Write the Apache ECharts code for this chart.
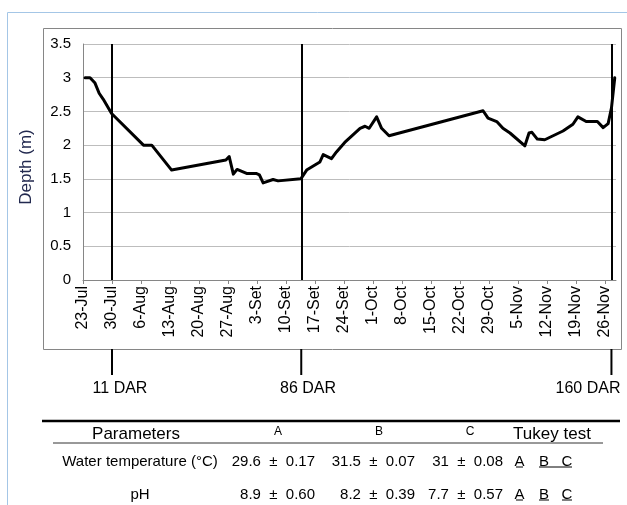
<!DOCTYPE html>
<html>
<head>
<meta charset="utf-8">
<script src="https://cdn.jsdelivr.net/npm/echarts@6/dist/echarts.min.js"></script>
<style>
  html, body { margin: 0; padding: 0; background: #fff; }
  #main { width: 627px; height: 505px; }
</style>
</head>
<body>
<div id="main"></div>
<script>
// ---------- data ----------
// x = days after 23-Jul, y = depth (m)
var days  = [0.5, 1.7, 2.9, 3.9, 4.9, 6.9, 14.6, 16.6, 21.4, 34.5, 35.3, 36.3, 37.2, 39.5, 41.8, 42.6, 43.5, 45.9, 47.1, 52.6,
             54, 57.2, 58, 60, 61.2, 63.2, 66.9, 68.1, 69.1, 70.9, 72.1, 73.9, 96.6, 97.8, 99.9, 101.4, 103.1,
             106.7, 107.7, 108.4, 109.7, 111.5, 115.9, 118.3, 119.5, 121.5, 124.2, 125.6, 126.8, 127.6, 128.4];
var depth = [3.0, 3.0, 2.92, 2.77, 2.68, 2.47, 2.0, 2.0, 1.63, 1.78, 1.83, 1.57, 1.64, 1.58, 1.58, 1.56, 1.44, 1.49, 1.47, 1.50,
             1.63, 1.75, 1.86, 1.80, 1.90, 2.04, 2.25, 2.28, 2.25, 2.42, 2.25, 2.14, 2.51, 2.40, 2.35, 2.25, 2.18,
             1.99, 2.18, 2.19, 2.09, 2.08, 2.21, 2.31, 2.42, 2.35, 2.35, 2.26, 2.32, 2.55, 3.0];

var weekLabels = ['23-Jul','30-Jul','6-Aug','13-Aug','20-Aug','27-Aug','3-Set','10-Set','17-Set','24-Set',
                  '1-Oct','8-Oct','15-Oct','22-Oct','29-Oct','5-Nov','12-Nov','19-Nov','26-Nov'];

var darDays   = [7, 52.7, 127.6];
var darLabels = ['11 DAR', '86 DAR', '160 DAR'];

// table below the chart
var tblCols   = ['A', 'B', 'C'];
var params    = ['Water temperature (°C)', 'pH'];
var meanA = [29.6, 8.9],  sdA = ['0.17', '0.60'];
var meanB = [31.5, 8.2],  sdB = ['0.07', '0.39'];
var meanC = [31, 7.7],    sdC = ['0.08', '0.57'];

var FONT = "'Liberation Sans', Arial, sans-serif";

var pts = [];
for (var i = 0; i < days.length; i++) {
    pts.push([days[i], depth[i]]);
}

var dom = document.getElementById('main');
var chart = echarts.init(dom, null, {renderer: 'canvas'});

var option = {
    backgroundColor: '#ffffff',
    animation: false,
    grid: { left: 83, top: 44, right: 11, bottom: 225 },
    xAxis: {
        type: 'value',
        min: 0,
        max: 128.7,
        interval: 7,
        splitLine: { show: false },
        axisLine: { lineStyle: { color: '#868686', width: 1 } },
        axisTick: { show: true, length: 4, lineStyle: { color: '#868686' } },
        axisLabel: {
            rotate: 90,
            margin: 6,
            color: '#000',
            fontFamily: FONT,
            fontSize: 16,
            showMaxLabel: false,
            formatter: function (v) {
                if (v % 7 === 0) return weekLabels[v / 7] || '';
                return '';
            }
        }
    },
    yAxis: {
        type: 'value',
        min: 0,
        max: 3.5,
        interval: 0.5,
        name: 'Depth (m)',
        nameLocation: 'middle',
        nameGap: 48,
        nameTextStyle: { fontFamily: FONT, fontSize: 17, color: '#22294f', padding: [0, 10, 0, 0] },
        axisLine: { show: true, lineStyle: { color: '#868686', width: 1 } },
        axisTick: { show: false },
        splitLine: { lineStyle: { color: '#bdbdbd', width: 1 } },
        axisLabel: { color: '#000', fontFamily: FONT, fontSize: 15, margin: 12 }
    },
    series: [{
        type: 'line',
        data: pts,
        symbol: 'none',
        smooth: false,
        lineStyle: { color: '#000', width: 3, join: 'round', cap: 'round' },
        markLine: {
            silent: true,
            symbol: 'none',
            label: { show: false },
            lineStyle: { color: '#000', width: 2, type: 'solid' },
            data: darDays.map(function (d) { return { xAxis: d }; })
        }
    }]
};
chart.setOption(option);

// ---------- frames, DAR marks and table (graphic) ----------
var g = [];
// light blue outer frame
g.push({ type: 'line', shape: { x1: 7.5, y1: 12.5, x2: 627, y2: 12.5 }, style: { stroke: '#a4c6e6', lineWidth: 1 } });
g.push({ type: 'line', shape: { x1: 7.5, y1: 12.5, x2: 7.5, y2: 505 }, style: { stroke: '#a4c6e6', lineWidth: 1 } });
// chart area border
g.push({ type: 'rect', shape: { x: 43.5, y: 28.5, width: 578, height: 321 }, style: { fill: null, stroke: '#868686', lineWidth: 1 }, z: -1 });

// DAR marks below the chart
var darTextX = [120, 308, 588];
for (var k = 0; k < darDays.length; k++) {
    var px = chart.convertToPixel({ xAxisIndex: 0 }, darDays[k]);
    g.push({ type: 'line', shape: { x1: px, y1: 349, x2: px, y2: 375 }, style: { stroke: '#000', lineWidth: 2 } });
    g.push({ type: 'text', x: darTextX[k], y: 389,
             style: { text: darLabels[k], fontFamily: FONT, fontSize: 16, fill: '#000', align: 'center', verticalAlign: 'middle' } });
}

// table rules
g.push({ type: 'line', shape: { x1: 42, y1: 421, x2: 620, y2: 421 }, style: { stroke: '#000', lineWidth: 2.5 } });
g.push({ type: 'line', shape: { x1: 53, y1: 443, x2: 603, y2: 443 }, style: { stroke: '#333', lineWidth: 1 } });

// header
g.push({ type: 'text', x: 136, y: 434, style: { text: 'Parameters', fontFamily: FONT, fontSize: 17, fill: '#000', align: 'center', verticalAlign: 'middle' } });
var colX = [278, 379, 470];
for (var c = 0; c < tblCols.length; c++) {
    g.push({ type: 'text', x: colX[c], y: 432, style: { text: tblCols[c], fontFamily: FONT, fontSize: 12, fill: '#000', align: 'center', verticalAlign: 'middle' } });
}
g.push({ type: 'text', x: 552, y: 434, style: { text: 'Tukey test', fontFamily: FONT, fontSize: 17, fill: '#000', align: 'center', verticalAlign: 'middle' } });

// rows
var rowY = [462, 495];
var valRight = [315, 415, 503];
var means = [meanA, meanB, meanC], sds = [sdA, sdB, sdC];
for (var r = 0; r < params.length; r++) {
    g.push({ type: 'text', x: 140, y: rowY[r], style: { text: params[r], fontFamily: FONT, fontSize: 15, fill: '#000', align: 'center', verticalAlign: 'middle' } });
    for (var c2 = 0; c2 < 3; c2++) {
        g.push({ type: 'text', x: valRight[c2], y: rowY[r],
                 style: { text: means[c2][r] + '  \u00b1  ' + sds[c2][r], fontFamily: FONT, fontSize: 15, fill: '#000', align: 'right', verticalAlign: 'middle' } });
    }
    var letX = [519.5, 544, 567];
    for (var l = 0; l < 3; l++) {
        g.push({ type: 'text', x: letX[l], y: rowY[r], style: { text: tblCols[l], fontFamily: FONT, fontSize: 15, fill: '#000', align: 'center', verticalAlign: 'middle' } });
    }
}
// Tukey underlines (row 1: A | B C ; row 2: A | B | C)
var ul = [[516, 523, 467], [539, 572, 467], [516, 523, 500], [539, 549, 500], [562, 572, 500]];
for (var u = 0; u < ul.length; u++) {
    g.push({ type: 'line', shape: { x1: ul[u][0], y1: ul[u][2], x2: ul[u][1], y2: ul[u][2] }, style: { stroke: '#000', lineWidth: 1 } });
}

chart.setOption({ graphic: g });
</script>
</body>
</html>
